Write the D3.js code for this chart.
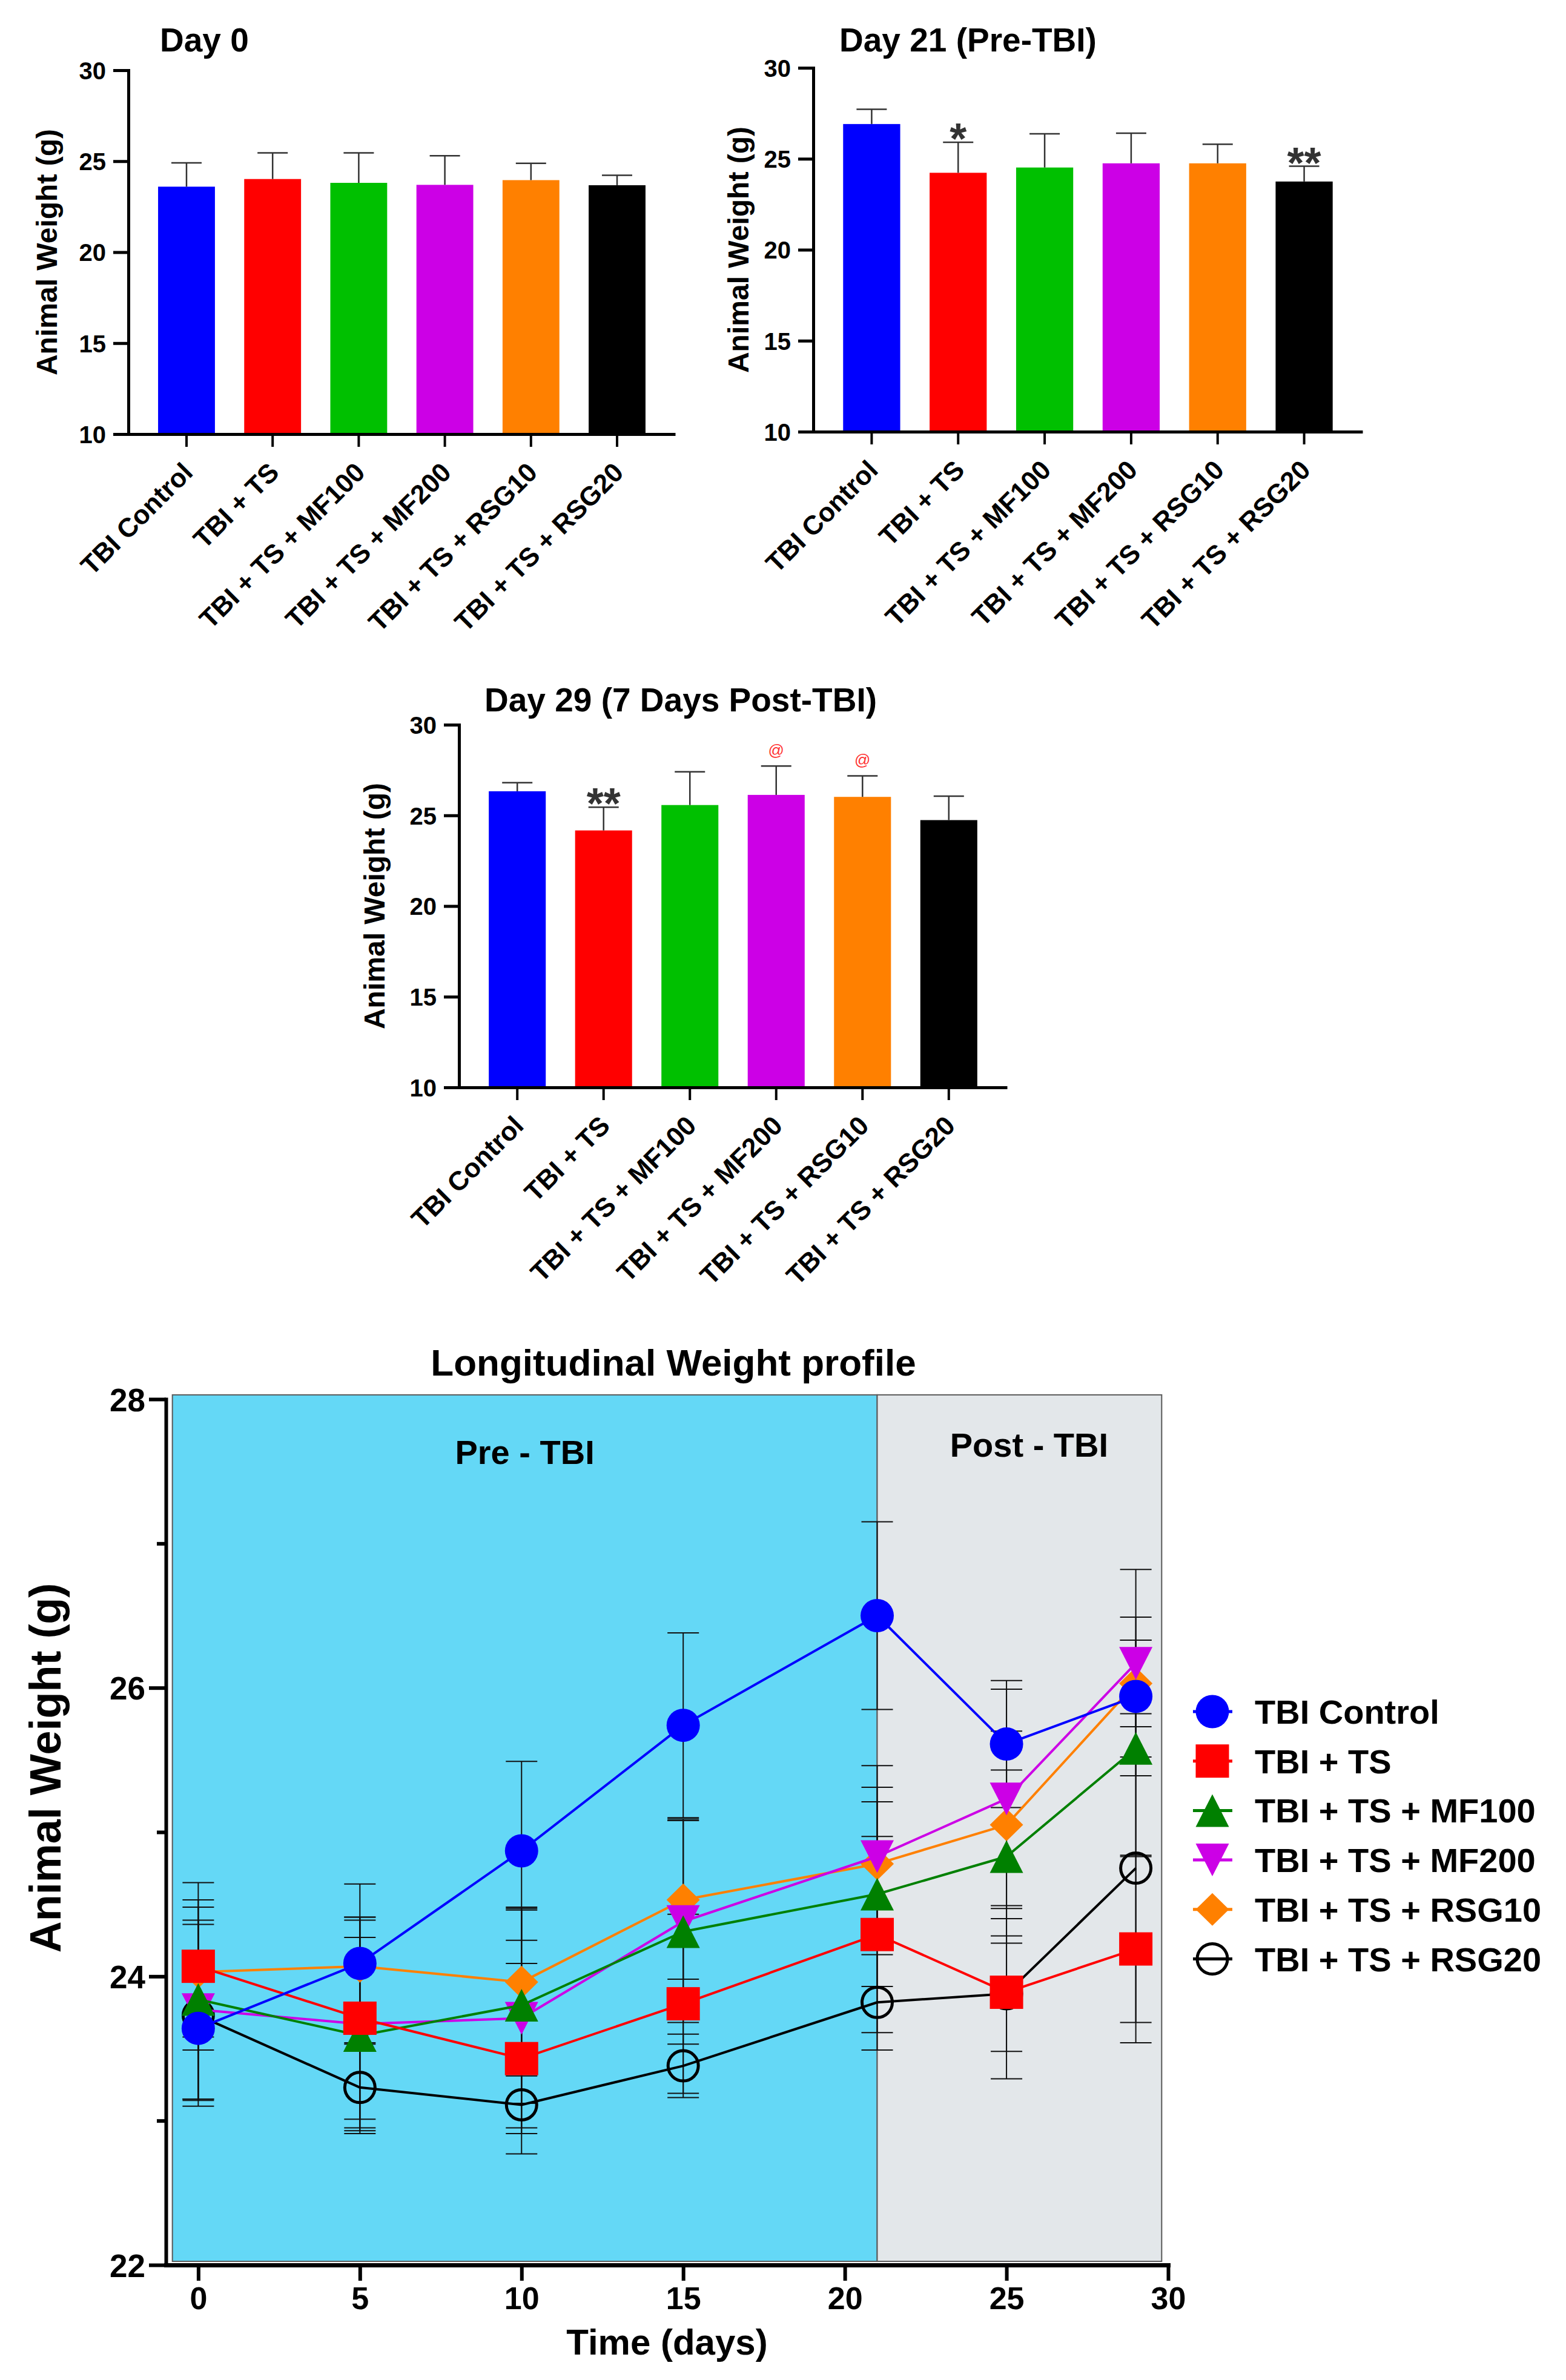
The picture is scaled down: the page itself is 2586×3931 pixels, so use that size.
<!DOCTYPE html>
<html><head><meta charset="utf-8">
<script src="https://cdn.jsdelivr.net/npm/d3@7"></script>
<style>
body{margin:0;background:#fff}
svg{display:block}
text{font-family:"Liberation Sans",Arial,Helvetica,sans-serif;font-weight:bold}
</style>
</head><body>
<svg id="chart" width="2586" height="3931"></svg>
<script>
// ---------- Bar chart data ----------
const categories = ["TBI Control","TBI + TS","TBI + TS + MF100","TBI + TS + MF200","TBI + TS + RSG10","TBI + TS + RSG20"];
const barColors = ["#0000ff","#ff0000","#00c000","#cc00e6","#ff8000","#000000"];
const barTicks = [10,15,20,25,30];

const day0Mean = [23.60, 24.02, 23.81, 23.70, 23.96, 23.68];
const day0Err  = [1.31, 1.44, 1.65, 1.60, 0.92, 0.55];
const day0Sig  = ["","","","","",""];

const day21Mean = [26.91, 24.23, 24.52, 24.75, 24.75, 23.75];
const day21Err  = [0.81, 1.68, 1.85, 1.66, 1.05, 0.84];
const day21Sig  = ["","*","","","","**"];

const day29Mean = [26.33, 24.17, 25.57, 26.13, 26.02, 24.74];
const day29Err  = [0.47, 1.28, 1.83, 1.59, 1.16, 1.32];
const day29Sig  = ["","**","","@","@",""];

// ---------- Longitudinal data ----------
const days = [0, 5, 10, 15, 21, 25, 29];
const seriesNames = ["TBI Control","TBI + TS","TBI + TS + MF100","TBI + TS + MF200","TBI + TS + RSG10","TBI + TS + RSG20"];
const lineColors = ["#0000ff","#ff0000","#008000","#cc00e6","#ff8000","#000000"];
const symbols = ["circle","square","triangle","triangleDown","diamond","openCircle"];

const ctrlW  = [23.64, 24.09, 24.87, 25.74, 26.50, 25.61, 25.94];
const tsW    = [24.07, 23.71, 23.43, 23.81, 24.29, 23.89, 24.19];
const mf100W = [23.84, 23.59, 23.80, 24.31, 24.57, 24.83, 25.58];
const mf200W = [23.77, 23.67, 23.71, 24.38, 24.83, 25.23, 26.17];
const rsg10W = [24.03, 24.07, 23.96, 24.53, 24.78, 25.05, 26.03];
const rsg20W = [23.73, 23.23, 23.11, 23.38, 23.82, 23.88, 24.75];

const ctrlE  = [0.50, 0.55, 0.62, 0.64, 0.65, 0.44, 0.55];
const tsE    = [0.58, 0.70, 0.66, 0.62, 0.68, 0.60, 0.65];
const mf100E = [0.69, 0.68, 0.68, 0.78, 0.64, 0.60, 0.75];
const mf200E = [0.62, 0.72, 0.76, 0.70, 0.63, 0.76, 0.65];
const rsg10E = [0.45, 0.34, 0.50, 0.55, 0.53, 0.65, 0.30];
const rsg20E = [0.63, 0.30, 0.20, 0.22, 0.33, 0.40, 1.07];

const xTicks = [0, 5, 10, 15, 20, 25, 30];
const yTicks = [22, 24, 26, 28];
const yMinorTicks = [23, 25, 27];
const phaseNames = ["Pre - TBI", "Post - TBI"];
const phaseStart = [-0.8, 21];
const phaseEnd = [21, 29.8];
const phaseColors = ["#64d8f6", "#e3e7ea"];

const svg = d3.select("#chart");

// ---------- Bar charts ----------
function barChart(cfg) {
  const g = svg.append("g");
  const x = d3.scaleBand().domain(categories).range([cfg.axisX, cfg.xEnd]).paddingInner(0.34).paddingOuter(0.345);
  const y = d3.scaleLinear().domain([10, 30]).range([cfg.yBottom, cfg.yTop]);

  g.selectAll("rect.bar").data(categories).join("rect")
    .attr("x", d => x(d)).attr("width", x.bandwidth())
    .attr("y", (d, i) => y(cfg.means[i]))
    .attr("height", (d, i) => y(10) - y(cfg.means[i]))
    .attr("fill", (d, i) => barColors[i]);

  const eb = g.selectAll("g.eb").data(categories).join("g");
  eb.append("line")
    .attr("x1", d => x(d) + x.bandwidth() / 2).attr("x2", d => x(d) + x.bandwidth() / 2)
    .attr("y1", (d, i) => y(cfg.means[i])).attr("y2", (d, i) => y(cfg.means[i] + cfg.errs[i]))
    .attr("stroke", "#333").attr("stroke-width", 2.5);
  eb.append("line")
    .attr("x1", d => x(d) + x.bandwidth() / 2 - 25).attr("x2", d => x(d) + x.bandwidth() / 2 + 25)
    .attr("y1", (d, i) => y(cfg.means[i] + cfg.errs[i])).attr("y2", (d, i) => y(cfg.means[i] + cfg.errs[i]))
    .attr("stroke", "#333").attr("stroke-width", 2.5);

  g.selectAll("text.sig").data(categories).join("text")
    .attr("x", d => x(d) + x.bandwidth() / 2)
    .attr("y", (d, i) => cfg.sig[i] === "@" ? y(cfg.means[i] + cfg.errs[i]) - 17 : y(cfg.means[i] + cfg.errs[i]) + 19)
    .attr("text-anchor", "middle")
    .attr("font-size", (d, i) => cfg.sig[i] === "@" ? 26 : 72)
    .attr("fill", (d, i) => cfg.sig[i] === "@" ? "#ff3030" : "#333")
    .style("font-weight", (d, i) => cfg.sig[i] === "@" ? "normal" : "bold")
    .text((d, i) => cfg.sig[i]);

  const ya = g.append("g").attr("transform", `translate(${cfg.axisX},0)`)
    .call(d3.axisLeft(y).tickValues(barTicks).tickSize(25).tickSizeOuter(0).tickPadding(12).tickFormat(d3.format("d")));
  ya.select(".domain").attr("stroke", "#000").attr("stroke-width", 5).attr("stroke-linecap", "square");
  ya.selectAll(".tick line").attr("stroke", "#000").attr("stroke-width", 5);
  ya.selectAll(".tick text").attr("font-size", 40).attr("fill", "#000").attr("dy", "0.36em");

  const xa = g.append("g").attr("transform", `translate(0,${cfg.yBottom})`)
    .call(d3.axisBottom(x).tickSize(21).tickSizeOuter(0));
  xa.select(".domain").attr("stroke", "#000").attr("stroke-width", 5);
  xa.selectAll(".tick line").attr("stroke", "#000").attr("stroke-width", 4);
  xa.selectAll(".tick text")
    .attr("font-size", 44).attr("fill", "#000")
    .attr("text-anchor", "end")
    .attr("x", 13).attr("y", 66).attr("dy", 0)
    .attr("transform", "rotate(-45,13,66)");

  g.append("text")
    .attr("transform", `translate(${cfg.labelX},${(cfg.yTop + cfg.yBottom) / 2}) rotate(-90)`)
    .attr("text-anchor", "middle").attr("font-size", 48)
    .text("Animal Weight (g)");

  g.append("text").attr("x", cfg.titleX).attr("y", cfg.titleY)
    .attr("font-size", 55).text(cfg.title);
}

barChart({title: "Day 0", means: day0Mean, errs: day0Err, sig: day0Sig,
  axisX: 212, xEnd: 1115, yTop: 116, yBottom: 717, titleX: 264, titleY: 85, labelX: 94});
barChart({title: "Day 21 (Pre-TBI)", means: day21Mean, errs: day21Err, sig: day21Sig,
  axisX: 1343, xEnd: 2250, yTop: 112, yBottom: 713, titleX: 1386, titleY: 85, labelX: 1236});
barChart({title: "Day 29 (7 Days Post-TBI)", means: day29Mean, errs: day29Err, sig: day29Sig,
  axisX: 758, xEnd: 1663, yTop: 1197, yBottom: 1796, titleX: 800, titleY: 1175, labelX: 635});

// ---------- Longitudinal chart ----------
const lx = d3.scaleLinear().domain([-1, 30]).range([274, 1929]);
const ly = d3.scaleLinear().domain([22, 28]).range([3741, 2311]);
const lg = svg.append("g");

phaseNames.forEach((name, i) => {
  lg.append("rect")
    .attr("x", lx(phaseStart[i])).attr("width", lx(phaseEnd[i]) - lx(phaseStart[i]))
    .attr("y", ly(28.03)).attr("height", ly(22.025) - ly(28.03))
    .attr("fill", phaseColors[i]).attr("stroke", "#5a5a5a").attr("stroke-width", 2);
});
lg.append("text").attr("x", (lx(phaseStart[0]) + lx(phaseEnd[0])) / 2).attr("y", ly(27.55))
  .attr("text-anchor", "middle").attr("font-size", 56).text(phaseNames[0]);
lg.append("text").attr("x", (lx(phaseStart[1]) + lx(phaseEnd[1])) / 2 + 16).attr("y", ly(27.6))
  .attr("text-anchor", "middle").attr("font-size", 56).text(phaseNames[1]);

const series = [
  {name: seriesNames[0], color: lineColors[0], sym: symbols[0], w: ctrlW, e: ctrlE},
  {name: seriesNames[1], color: lineColors[1], sym: symbols[1], w: tsW, e: tsE},
  {name: seriesNames[2], color: lineColors[2], sym: symbols[2], w: mf100W, e: mf100E},
  {name: seriesNames[3], color: lineColors[3], sym: symbols[3], w: mf200W, e: mf200E},
  {name: seriesNames[4], color: lineColors[4], sym: symbols[4], w: rsg10W, e: rsg10E},
  {name: seriesNames[5], color: lineColors[5], sym: symbols[5], w: rsg20W, e: rsg20E}
];

series.forEach(s => {
  const eg = lg.append("g");
  days.forEach((d, i) => {
    const cx = lx(d), lo = ly(s.w[i] - s.e[i]), hi = ly(s.w[i] + s.e[i]);
    eg.append("line").attr("x1", cx).attr("x2", cx).attr("y1", lo).attr("y2", hi)
      .attr("stroke", "#111").attr("stroke-width", 2);
    [lo, hi].forEach(yy => eg.append("line").attr("x1", cx - 26).attr("x2", cx + 26)
      .attr("y1", yy).attr("y2", yy).attr("stroke", "#111").attr("stroke-width", 2));
  });
});

function drawMarker(sel, sym, color, cx, cy) {
  const h = 27.5;
  if (sym === "circle") {
    sel.append("circle").attr("cx", cx).attr("cy", cy).attr("r", h).attr("fill", color);
  } else if (sym === "openCircle") {
    sel.append("circle").attr("cx", cx).attr("cy", cy).attr("r", 25).attr("fill", "none")
      .attr("stroke", color).attr("stroke-width", 5);
  } else if (sym === "square") {
    sel.append("rect").attr("x", cx - h).attr("y", cy - h).attr("width", 2 * h).attr("height", 2 * h).attr("fill", color);
  } else {
    const p = d3.path();
    if (sym === "triangle") { p.moveTo(cx, cy - 27); p.lineTo(cx + h, cy + 27); p.lineTo(cx - h, cy + 27); }
    else if (sym === "triangleDown") { p.moveTo(cx - h, cy - 27); p.lineTo(cx + h, cy - 27); p.lineTo(cx, cy + 27); }
    else { p.moveTo(cx, cy - 27); p.lineTo(cx + h, cy); p.lineTo(cx, cy + 27); p.lineTo(cx - h, cy); }
    p.closePath();
    sel.append("path").attr("d", p.toString()).attr("fill", color);
  }
}

const line = d3.line().x(d => lx(d[0])).y(d => ly(d[1]));
series.slice().reverse().forEach(s => {
  const sg = lg.append("g");
  sg.append("path").attr("d", line(days.map((d, i) => [d, s.w[i]])))
    .attr("fill", "none").attr("stroke", s.color).attr("stroke-width", 4).attr("stroke-linejoin", "round");
  days.forEach((d, i) => drawMarker(sg, s.sym, s.color, lx(d), ly(s.w[i])));
});

const lya = lg.append("g").attr("transform", `translate(${lx(-1)},0)`)
  .call(d3.axisLeft(ly).tickValues(yTicks).tickSize(28).tickSizeOuter(0).tickPadding(6).tickFormat(d3.format("d")));
lya.select(".domain").attr("stroke", "#000").attr("stroke-width", 6).attr("stroke-linecap", "square");
lya.selectAll(".tick line").attr("stroke", "#000").attr("stroke-width", 6);
lya.selectAll(".tick text").attr("font-size", 53).attr("fill", "#000").attr("dy", "0.36em");
const lym = lg.append("g").attr("transform", `translate(${lx(-1)},0)`)
  .call(d3.axisLeft(ly).tickValues(yMinorTicks).tickSize(15).tickSizeOuter(0).tickFormat(""));
lym.select(".domain").remove();
lym.selectAll(".tick line").attr("stroke", "#000").attr("stroke-width", 6);

const lxa = lg.append("g").attr("transform", `translate(0,${ly(22)})`)
  .call(d3.axisBottom(lx).tickValues(xTicks).tickSize(26).tickSizeOuter(0).tickPadding(10).tickFormat(d3.format("d")));
lxa.select(".domain").attr("stroke", "#000").attr("stroke-width", 7).attr("stroke-linecap", "square");
lxa.selectAll(".tick line").attr("stroke", "#000").attr("stroke-width", 6);
lxa.selectAll(".tick text").attr("font-size", 52).attr("fill", "#000");

lg.append("text").attr("x", (lx(-1) + lx(30)) / 2).attr("y", 3889)
  .attr("text-anchor", "middle").attr("font-size", 60).text("Time (days)");
lg.append("text").attr("transform", `translate(100,2920) rotate(-90)`)
  .attr("text-anchor", "middle").attr("font-size", 72).text("Animal Weight (g)");
lg.append("text").attr("x", 1112).attr("y", 2272)
  .attr("text-anchor", "middle").attr("font-size", 62).text("Longitudinal Weight profile");

const leg = svg.append("g");
series.forEach((s, i) => {
  const yy = 2827 + i * 81.7;
  leg.append("line").attr("x1", 1970).attr("x2", 2035).attr("y1", yy).attr("y2", yy)
    .attr("stroke", s.color).attr("stroke-width", 5);
  drawMarker(leg, s.sym, s.color, 2002, yy);
  leg.append("text").attr("x", 2072).attr("y", yy + 20).attr("font-size", 56).text(s.name);
});
</script>
</body></html>
